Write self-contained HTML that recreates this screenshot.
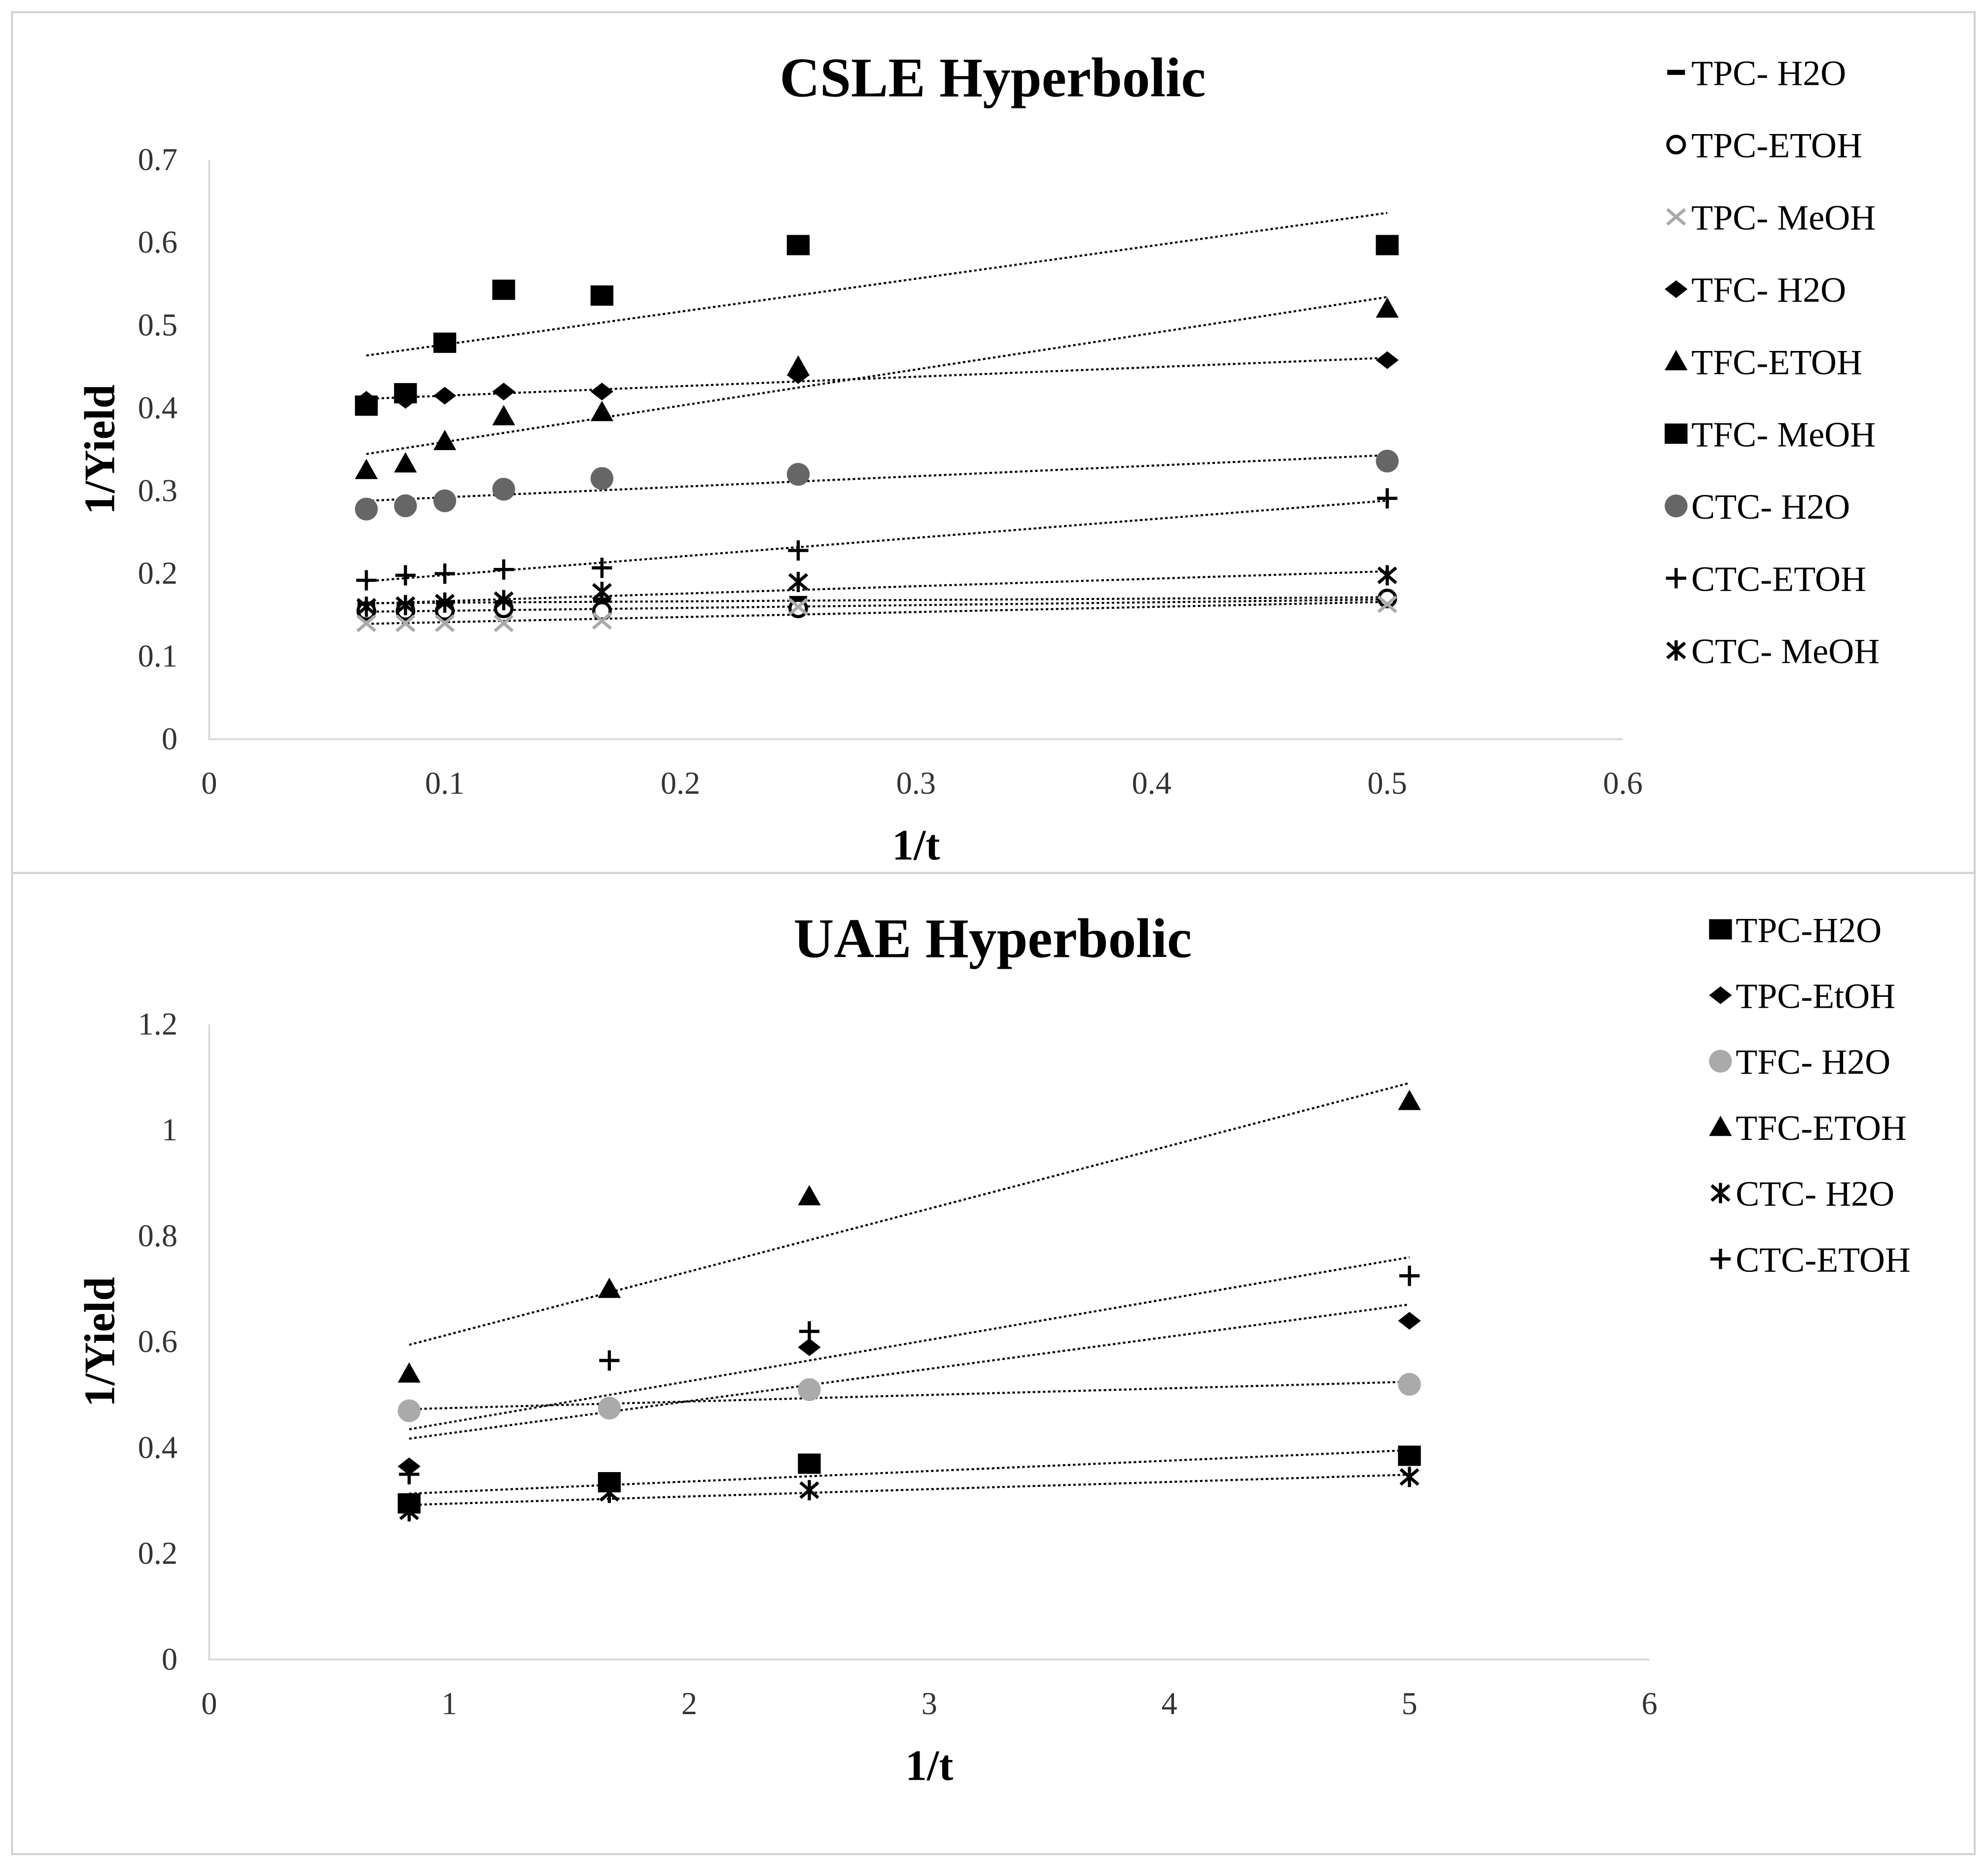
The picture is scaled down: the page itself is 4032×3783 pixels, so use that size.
<!DOCTYPE html>
<html><head><meta charset="utf-8"><style>
html,body{margin:0;padding:0;background:#fff;}
svg{display:block;font-family:"Liberation Serif",serif;}
</style></head><body>
<svg id="root" width="4032" height="3783" viewBox="0 0 1568 1471" xmlns="http://www.w3.org/2000/svg">
<rect x="0" y="0" width="1568" height="1471" fill="#fff"/>
<rect x="9.5" y="9.5" width="1548" height="679" fill="none" stroke="#d0d0d0" stroke-width="1.5"/>
<rect x="9.5" y="688.5" width="1548" height="774" fill="none" stroke="#d0d0d0" stroke-width="1.5"/>
<g id="g1"></g>
<g id="g2"></g>
</svg>
<script>
// ---- CSLE data ----
const csleX = [0.0667, 0.0833, 0.1, 0.125, 0.1667, 0.25, 0.5];
const csleTpcH2O  = [0.163, 0.163, 0.165, 0.165, 0.168, 0.17, 0.17];
const csleTpcEtoh = [0.155, 0.155, 0.155, 0.158, 0.155, 0.158, 0.17];
const csleTpcMeoh = [0.14, 0.14, 0.14, 0.14, 0.143, 0.16, 0.163];
const csleTfcH2O  = [0.41, 0.41, 0.415, 0.42, 0.42, 0.44, 0.458];
const csleTfcEtoh = [0.325, 0.333, 0.36, 0.39, 0.395, 0.45, 0.52];
const csleTfcMeoh = [0.403, 0.418, 0.479, 0.543, 0.536, 0.597, 0.597];
const csleCtcH2O  = [0.278, 0.282, 0.288, 0.302, 0.315, 0.32, 0.336];
const csleCtcEtoh = [0.192, 0.198, 0.2, 0.205, 0.207, 0.228, 0.291];
const csleCtcMeoh = [0.16, 0.162, 0.165, 0.168, 0.178, 0.19, 0.198];
const csleXTicks = ["0","0.1","0.2","0.3","0.4","0.5","0.6"];
const csleYTicks = ["0","0.1","0.2","0.3","0.4","0.5","0.6","0.7"];
// ---- UAE data ----
const uaeX = [0.833, 1.667, 2.5, 5];
const uaeTpcH2O  = [0.295, 0.335, 0.37, 0.385];
const uaeTpcEtoh = [0.365, 0.48, 0.59, 0.64];
const uaeTfcH2O  = [0.47, 0.475, 0.51, 0.52];
const uaeTfcEtoh = [0.54, 0.70, 0.875, 1.055];
const uaeCtcH2O  = [0.28, 0.315, 0.32, 0.345];
const uaeCtcEtoh = [0.35, 0.565, 0.62, 0.725];
const uaeXTicks = ["0","1","2","3","4","5","6"];
const uaeYTicks = ["0","0.2","0.4","0.6","0.8","1","1.2"];

const NS="http://www.w3.org/2000/svg";
function mk(tag,attrs,parent){const e=document.createElementNS(NS,tag);for(const k in attrs)e.setAttribute(k,attrs[k]);parent.appendChild(e);return e;}

function marker(g,type,cx,cy){
  let e;
  if(type==='dash'){e=mk('rect',{x:cx-7,y:cy-2,width:14,height:4,fill:'#000'},g);}
  else if(type==='ocircle'){e=mk('circle',{cx:cx,cy:cy,r:6.5,fill:'#fff',stroke:'#000','stroke-width':2.5},g);}
  else if(type==='gx'){e=mk('path',{d:`M${cx-7},${cy-6}L${cx+7},${cy+6}M${cx-7},${cy+6}L${cx+7},${cy-6}`,stroke:'#aaa','stroke-width':2.5,fill:'none'},g);}
  else if(type==='diamond'){e=mk('path',{d:`M${cx},${cy-7}L${cx+9},${cy}L${cx},${cy+7}L${cx-9},${cy}Z`,fill:'#000'},g);}
  else if(type==='tri'){e=mk('path',{d:`M${cx},${cy-9}L${cx+9},${cy+7}L${cx-9},${cy+7}Z`,fill:'#000'},g);}
  else if(type==='square'){e=mk('rect',{x:cx-9,y:cy-8,width:18,height:16,fill:'#000'},g);}
  else if(type==='gcircle'){e=mk('circle',{cx:cx,cy:cy,r:9,fill:'#666'},g);}
  else if(type==='lgcircle'){e=mk('circle',{cx:cx,cy:cy,r:9,fill:'#aaa'},g);}
  else if(type==='plus'){e=mk('path',{d:`M${cx-8},${cy}L${cx+8},${cy}M${cx},${cy-8}L${cx},${cy+8}`,stroke:'#000','stroke-width':2.5,fill:'none'},g);}
  else if(type==='star'){e=mk('path',{d:`M${cx-7},${cy-6}L${cx+7},${cy+6}M${cx-7},${cy+6}L${cx+7},${cy-6}M${cx},${cy-8}L${cx},${cy+8}`,stroke:'#000','stroke-width':2.5,fill:'none'},g);}
  return e;
}

function drawChart(g,cfg){
  const sx=v=>cfg.x0+(v-cfg.xmin)/(cfg.xmax-cfg.xmin)*(cfg.x1-cfg.x0);
  const sy=v=>cfg.y0-(v-cfg.ymin)/(cfg.ymax-cfg.ymin)*(cfg.y0-cfg.y1);
  let t=mk('text',{x:cfg.titleX,y:cfg.titleY,'font-size':44,'font-weight':'bold','text-anchor':'middle'},g);t.textContent=cfg.title;
  
  
  let ax=mk('path',{d:`M${cfg.x0},${cfg.y1}L${cfg.x0},${cfg.y0}L${cfg.x1},${cfg.y0}`,stroke:'#d9d9d9','stroke-width':1.5,fill:'none'},g);
  
  
  cfg.xTicks.forEach(l=>{const e=mk('text',{x:sx(parseFloat(l)),y:cfg.y0+43,'font-size':25,'text-anchor':'middle',fill:'#333'},g);e.textContent=l;
    
    });
  cfg.yTicks.forEach(l=>{const e=mk('text',{x:cfg.x0-25,y:sy(parseFloat(l))+8,'font-size':25,'text-anchor':'end',fill:'#333'},g);e.textContent=l;
    
    });
  let xt=mk('text',{x:(cfg.x0+cfg.x1)/2,y:cfg.y0+95,'font-size':34,'font-weight':'bold','text-anchor':'middle'},g);xt.textContent='1/t';
  
  
  const yc=(cfg.y0+cfg.y1)/2;
  let yt=mk('text',{x:0,y:0,'font-size':34,'font-weight':'bold','text-anchor':'middle',transform:`translate(${cfg.x0-75},${yc}) rotate(-90)`},g);yt.textContent='1/Yield';
  
  
  cfg.series.forEach(s=>{
    const xs=cfg.xs, ys=s.v, n=xs.length;
    const mx=xs.reduce((a,b)=>a+b)/n, my=ys.reduce((a,b)=>a+b)/n;
    let num=0,den=0;xs.forEach((x,i)=>{num+=(x-mx)*(ys[i]-my);den+=(x-mx)*(x-mx);});
    const b=num/den,a=my-b*mx, xa=xs[0], xb=xs[n-1];
    const tl=mk('line',{x1:sx(xa),y1:sy(a+b*xa),x2:sx(xb),y2:sy(a+b*xb),stroke:'#000','stroke-width':1.6,'stroke-dasharray':'2 2'},g);
    
    
  });
  cfg.series.forEach(s=>{
    cfg.xs.forEach((x,i)=>{const m=marker(g,s.m,sx(x),sy(s.v[i]));
      
      });
  });
  cfg.series.forEach((s,i)=>{
    const ly=cfg.legY+i*cfg.legDy;
    const m=marker(g,s.m,cfg.legX,ly);
    
    
    const e=mk('text',{x:cfg.legX+12,y:ly+10,'font-size':28},g);e.textContent=s.label;
    
    
  });
}

drawChart(document.getElementById('g1'),{
  title:'CSLE Hyperbolic',titleX:783,titleY:76,
  x0:165,x1:1280,y0:583,y1:126,xmin:0,xmax:0.6,ymin:0,ymax:0.7,
  xs:csleX,xTicks:csleXTicks,yTicks:csleYTicks,
  legX:1322,legY:57,legDy:57,
  series:[
    {id:'tpc-h2o',label:'TPC- H2O',m:'dash',v:csleTpcH2O},
    {id:'tpc-etoh',label:'TPC-ETOH',m:'ocircle',v:csleTpcEtoh},
    {id:'tpc-meoh',label:'TPC- MeOH',m:'gx',v:csleTpcMeoh},
    {id:'tfc-h2o',label:'TFC- H2O',m:'diamond',v:csleTfcH2O},
    {id:'tfc-etoh',label:'TFC-ETOH',m:'tri',v:csleTfcEtoh},
    {id:'tfc-meoh',label:'TFC- MeOH',m:'square',v:csleTfcMeoh},
    {id:'ctc-h2o',label:'CTC- H2O',m:'gcircle',v:csleCtcH2O},
    {id:'ctc-etoh',label:'CTC-ETOH',m:'plus',v:csleCtcEtoh},
    {id:'ctc-meoh',label:'CTC- MeOH',m:'star',v:csleCtcMeoh}
  ]});

drawChart(document.getElementById('g2'),{
  title:'UAE Hyperbolic',titleX:783,titleY:755,
  x0:165,x1:1301,y0:1309,y1:808,xmin:0,xmax:6,ymin:0,ymax:1.2,
  xs:uaeX,xTicks:uaeXTicks,yTicks:uaeYTicks,
  legX:1357,legY:733,legDy:52,
  series:[
    {id:'tpc-h2o',label:'TPC-H2O',m:'square',v:uaeTpcH2O},
    {id:'tpc-etoh',label:'TPC-EtOH',m:'diamond',v:uaeTpcEtoh},
    {id:'tfc-h2o',label:'TFC- H2O',m:'lgcircle',v:uaeTfcH2O},
    {id:'tfc-etoh',label:'TFC-ETOH',m:'tri',v:uaeTfcEtoh},
    {id:'ctc-h2o',label:'CTC- H2O',m:'star',v:uaeCtcH2O},
    {id:'ctc-etoh',label:'CTC-ETOH',m:'plus',v:uaeCtcEtoh}
  ]});
</script>
</body></html>
